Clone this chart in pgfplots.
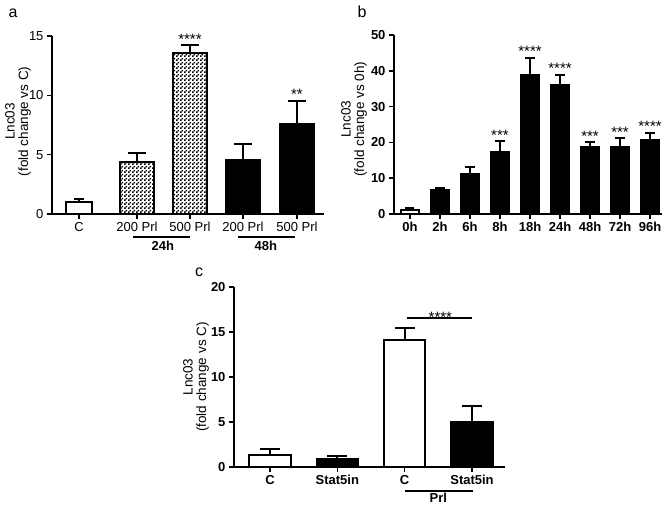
\documentclass[border=0pt]{standalone}
\usepackage{fontspec}
\setmainfont{Liberation Sans}
\usepackage{pgfplots}
\usepackage{pgfplotstable}
\pgfplotsset{compat=1.18}
\usetikzlibrary{patterns}

\pgfdeclarepatternformonly{finechecker}{\pgfqpoint{0pt}{0pt}}{\pgfqpoint{4pt}{4pt}}{\pgfqpoint{4pt}{4pt}}{%
  \pgfpathrectangle{\pgfqpoint{0pt}{0pt}}{\pgfqpoint{2pt}{2pt}}%
  \pgfpathrectangle{\pgfqpoint{2pt}{2pt}}{\pgfqpoint{2pt}{2pt}}%
  \pgfusepath{fill}}

\pgfplotstableread{
x y e
0 1.0 0.28
}\aC
\pgfplotstableread{
x y e
1.064 4.35 0.81
2.037 13.54 0.70
}\aTwentyFour
\pgfplotstableread{
x y e
3.009 4.54 1.32
4 7.6 1.93
}\aFortyEight

\pgfplotstableread{
x y e
0 1.0 0.7
}\bZero
\pgfplotstableread{
x y e
1 6.6 0.8
2 11.06 1.94
3 17.3 3.0
4 38.85 4.85
5 36.1 2.75
6 18.6 1.5
7 18.6 2.6
8 20.7 2.0
}\bRest

\pgfplotstableread{
x y e
0 1.3 0.7
2 14.07 1.33
}\cWhite
\pgfplotstableread{
x y e
1 0.9 0.36
3 5.04 1.76
}\cBlack

\tikzset{stars/.style={anchor=base, yshift=1pt, inner sep=0pt, font=\fontsize{15}{15}\selectfont}}
\pgfplotsset{
  gp/.style={
    scale only axis, clip=false,
    axis lines*=left,
    axis line style={line width=1.5pt},
    every tick/.style={line width=1.5pt, black},
    major tick length=5pt, tick align=outside,
    ymin=0, enlargelimits=false,
    /pgf/number format/assume math mode=true,
    ybar, bar shift=0pt,
    ylabel style={align=center, font=\fontsize{13.5}{13.5}\selectfont, anchor=center},
    anchor=south west,
  },
  err/.style={error bars/.cd, y dir=plus, y explicit,
    error bar style={line width=2pt, black},
    error mark options={rotate=90, line width=2pt, mark size=#1, black}},
}

\begin{document}
\begin{tikzpicture}[x=1pt,y=1pt]
\useasboundingbox (0,0) rectangle (668,504);

% ---------- panel a ----------
\node[font=\fontsize{16}{16}\selectfont] at (13,491) {a};
\begin{axis}[gp,
  at={(52pt,290pt)}, width=272pt, height=178pt,
  xmin=-0.495, xmax=4.496, ymax=15,
  ytick={0,5,10,15},
  xtick={0,1.064,2.037,3.009,4},
  xticklabels={C,200 Prl,500 Prl,200 Prl,500 Prl},
  tick label style={font=\fontsize{13}{14}\selectfont},
  ylabel={Lnc03\\(fold change vs C)},
  ylabel style={at={(axis description cs:-0.125,0.52)}},
]
\addplot[fill=white, draw=black, line width=2pt, bar width=0.46, err=5pt] table[x=x,y=y,y error plus=e]{\aC};
\addplot[pattern=finechecker, draw=black, line width=2pt, bar width=0.61, err=9pt] table[x=x,y=y,y error plus=e]{\aTwentyFour};
\addplot[fill=black, draw=black, line width=2pt, bar width=0.61, err=9pt] table[x=x,y=y,y error plus=e]{\aFortyEight};
\node[stars] at (axis cs:2.037,14.24) {****};
\node[stars] at (axis cs:4,9.53) {**};
\draw[line width=1.4pt] ([yshift=-23pt]axis cs:1.0,0) -- ([yshift=-23pt]axis cs:2.04,0);
\draw[line width=1.4pt] ([yshift=-23pt]axis cs:2.917,0) -- ([yshift=-23pt]axis cs:3.963,0);
\node[font=\bfseries\fontsize{13}{14}\selectfont] at ([yshift=-32pt]axis cs:1.54,0) {24h};
\node[font=\bfseries\fontsize{13}{14}\selectfont] at ([yshift=-32pt]axis cs:3.43,0) {48h};
\end{axis}

% ---------- panel b ----------
\node[font=\fontsize{16}{16}\selectfont] at (362,492) {b};
\begin{axis}[gp,
  at={(394pt,290pt)}, width=268pt, height=179pt,
  xmin=-0.533, xmax=8.4, ymax=50,
  ytick={0,10,20,30,40,50},
  xtick={0,1,2,3,4,5,6,7,8},
  xticklabels={0h,2h,6h,8h,18h,24h,48h,72h,96h},
  tick label style={font=\bfseries\fontsize{13}{14}\selectfont},
  ylabel={Lnc03\\(fold change vs 0h)},
  ylabel style={at={(axis description cs:-0.149,0.53)}},
]
\addplot[fill=white, draw=black, line width=2pt, bar width=0.6, err=4.5pt] table[x=x,y=y,y error plus=e]{\bZero};
\addplot[fill=black, draw=black, line width=2pt, bar width=0.6, err=5pt] table[x=x,y=y,y error plus=e]{\bRest};
\node[stars] at (axis cs:3,20.3) {***};
\node[stars] at (axis cs:4,43.7) {****};
\node[stars] at (axis cs:5,38.85) {****};
\node[stars] at (axis cs:6,20.1) {***};
\node[stars] at (axis cs:7,21.2) {***};
\node[stars] at (axis cs:8,22.7) {****};
\end{axis}

% ---------- panel c ----------
\node[font=\fontsize{16}{16}\selectfont] at (199,232) {c};
\begin{axis}[gp,
  at={(234pt,37pt)}, width=271pt, height=180pt,
  xmin=-0.535, xmax=3.49, ymax=20,
  ytick={0,5,10,15,20},
  xtick={0,1,2,3},
  xticklabels={C,Stat5in,C,Stat5in},
  tick label style={font=\bfseries\fontsize{13}{14}\selectfont},
  ylabel={Lnc03\\(fold change vs C)},
  ylabel style={at={(axis description cs:-0.14,0.5)}},
]
\addplot[fill=white, draw=black, line width=2pt, bar width=0.61, err=10pt] table[x=x,y=y,y error plus=e]{\cWhite};
\addplot[fill=black, draw=black, line width=2pt, bar width=0.61, err=10pt] table[x=x,y=y,y error plus=e]{\cBlack};
\draw[line width=1.4pt] (axis cs:2.03,16.55) -- (axis cs:3.0,16.55);
\node[anchor=base, inner sep=0pt, font=\fontsize{15}{15}\selectfont] at ([yshift=-4.5pt]axis cs:2.53,16.55) {****};
\draw[line width=1.4pt] ([yshift=-24pt]axis cs:2.006,0) -- ([yshift=-24pt]axis cs:3.016,0);
\node[font=\bfseries\fontsize{13}{14}\selectfont, inner sep=1pt] at ([yshift=-30.5pt]axis cs:2.5,0) {Prl};
\end{axis}
\end{tikzpicture}
\end{document}
